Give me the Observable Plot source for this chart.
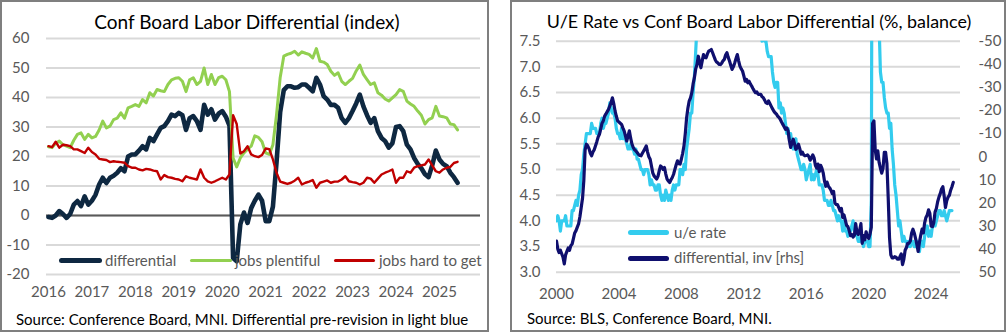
<!DOCTYPE html>
<html><head><meta charset="utf-8">
<script src="https://cdn.jsdelivr.net/npm/d3@7"></script>
<script src="https://cdn.jsdelivr.net/npm/@observablehq/plot@0.6"></script>
<style>
html,body{margin:0;padding:0;background:#fff;}
body{width:1007px;height:333px;overflow:hidden;position:relative;font-family:Lato,"Noto Sans",sans-serif;}
.frame{position:absolute;border:2px solid #7f7f7f;box-sizing:border-box;}
.title{position:absolute;text-align:center;color:#000;font-size:19px;line-height:19px;white-space:nowrap;}
.source{position:absolute;color:#000;font-size:15px;line-height:15px;white-space:nowrap;}
.leg{position:absolute;color:#595959;font-size:15px;line-height:15px;white-space:nowrap;}
.sw{position:absolute;}
.pbox{position:absolute;}
.pbox svg{position:absolute;left:0;top:0;}
</style></head><body>
<div class="frame" style="left:0;top:0;width:489px;height:332px;"></div>
<div class="frame" style="left:510px;top:0;width:496px;height:332px;"></div>
<div class="title" style="left:0;width:494px;top:12px;">Conf Board Labor Differential (index)</div>
<div class="title" style="left:510px;width:498px;top:12.8px;font-size:17.9px;line-height:17.9px;">U/E Rate vs Conf Board Labor Differential (%, balance)</div>
<div id="left" class="pbox" style="left:0;top:30px;width:488px;height:280px;"></div>
<div id="right" class="pbox" style="left:511px;top:30px;width:494px;height:280px;"></div>
<div class="source" style="left:16px;top:312px;">Source: Conference Board, MNI. Differential pre-revision in light blue</div>
<div class="source" style="left:527px;top:311px;">Source: BLS, Conference Board, MNI.</div>
<div id="legends"></div>
<script>
// ---------------- DATA ----------------
// Left panel: monthly, Jan 2016 .. Jun 2025
const leftStartYear = 2016;
const jobsPlentiful = [
  23.3,23.0,24.5,25.2,24.0,23.5,23.0,25.5,27.5,28.0,25.8,27.5,
  26.3,26.8,29.0,32.0,29.7,30.3,32.5,33.0,34.8,33.0,36.5,37.0,
  37.6,37.0,39.3,38.2,41.6,40.5,42.7,42.3,42.0,44.4,46.0,46.5,
  46.7,45.5,42.0,46.0,46.7,44.4,45.5,50.0,44.4,47.8,44.4,46.7,
  47.2,46.0,42.0,19.5,16.5,19.5,21.2,22.5,23.5,27.0,26.5,25.0,
  21.2,20.7,24.0,34.2,46.7,54.0,54.6,55.0,55.7,54.4,55.5,55.0,
  54.6,53.4,56.6,52.3,52.0,51.2,48.9,47.5,48.4,45.5,44.4,45.5,
  46.5,49.0,51.0,47.8,46.1,44.4,45.0,41.6,40.8,39.5,38.8,39.9,
  41.0,42.7,42.1,38.8,37.8,37.0,35.4,34.0,31.0,32.5,33.1,37.0,
  33.7,33.5,33.1,31.0,30.8,29.0
];
const jobsHardToGet = [
  23.5,23.2,25.0,23.0,24.0,23.8,23.5,22.4,22.4,21.8,21.2,23.0,
  21.5,20.7,19.2,19.0,18.8,18.1,18.4,18.2,18.1,17.9,16.7,16.2,
  16.2,15.6,15.3,15.8,15.6,15.2,15.0,12.2,13.7,13.0,12.8,12.4,
  12.2,11.6,13.3,12.8,12.5,12.2,15.6,12.8,11.6,11.1,11.6,12.2,
  12.8,12.2,13.9,34.0,31.0,21.0,21.8,23.5,20.7,20.1,19.8,20.5,
  22.7,22.5,19.0,14.5,11.5,11.1,10.7,11.1,11.8,12.8,10.5,11.1,
  11.5,12.0,9.4,11.1,11.5,11.9,11.1,11.5,11.5,12.2,13.3,11.6,
  11.3,11.1,10.5,11.1,12.8,12.5,11.1,12.5,13.9,14.5,15.0,15.6,
  11.1,12.8,12.8,15.0,14.5,16.2,16.7,17.0,17.3,19.0,17.0,15.0,
  14.5,15.6,16.2,16.5,17.8,18.2
];
const differential2016 = [
  -0.5,-0.8,0.0,1.5,0.5,-0.8,0.5,3.7,4.9,3.2,6.5,3.7,
  5.0,7.0,10.5,12.8,11.0,12.8,13.5,14.5,16.0,15.0,20.0,20.7,
  20.7,22.0,23.5,22.4,26.3,25.2,27.5,29.7,30.3,32.0,34.2,33.7,
  34.8,34.0,29.0,33.0,33.7,32.0,29.0,37.5,34.2,36.0,32.5,34.5,
  35.4,33.5,30.5,-14.4,-15.5,-3.0,1.0,-2.5,2.5,5.0,7.1,5.0,
  -1.9,-1.9,3.0,18.0,35.0,42.5,43.8,43.8,43.3,43.5,44.4,44.4,
  43.3,42.1,46.7,44.4,40.5,39.3,37.5,37.5,36.5,33.0,31.4,33.0,
  35.4,38.0,41.0,37.0,34.0,31.4,33.0,28.6,26.3,25.2,23.0,24.5,
  30.0,30.3,28.6,24.0,22.4,19.5,17.5,16.0,14.0,13.0,17.0,22.0,
  19.0,17.5,16.7,14.5,13.0,11.1
];
const leftYTicks = [-20,-10,0,10,20,30,40,50,60];
const leftYears = [2016,2017,2018,2019,2020,2021,2022,2023,2024,2025];

// Right panel: monthly from Jan 2000
const rightStartYear = 2000;
const differentialPre2016 = [
  36.5,40.0,41.5,40.5,42.0,43.5,46.4,42.5,41.0,39.5,40.5,38.5,
  37.8,35.5,33.0,32.0,30.5,29.0,26.0,22.0,18.0,10.4,-3.0,-5.4,
  -4.7,-3.5,-1.5,-0.4,-2.0,-3.0,-4.7,-6.5,-8.5,-9.7,-12.0,-14.5,
  -15.5,-17.6,-18.5,-19.5,-20.5,-22.0,-23.5,-25.5,-23.0,-19.8,-17.5,-15.5,
  -15.0,-14.5,-14.0,-12.5,-11.2,-9.0,-6.8,-9.0,-11.2,-8.0,-5.5,-4.0,
  -3.0,-2.5,-1.8,-1.0,-0.5,-0.4,-1.5,-2.5,-3.5,-4.7,-2.0,0.0,
  1.1,4.0,7.0,8.3,9.0,9.7,8.5,6.0,4.0,4.5,5.5,4.7,
  7.5,9.7,10.5,11.2,10.0,9.0,7.6,5.5,3.5,1.8,3.0,3.2,
  1.0,-1.5,-4.7,-10.0,-16.7,-21.0,-24.1,-25.5,-27.7,-31.5,-34.2,-38.0,
  -39.9,-43.5,-41.0,-38.5,-41.5,-44.2,-43.0,-42.8,-44.5,-45.7,-46.0,-46.4,
  -45.0,-43.5,-42.0,-41.0,-40.6,-40.0,-39.9,-40.5,-41.5,-42.1,-44.0,-45.0,
  -43.0,-41.4,-39.5,-37.8,-39.0,-40.6,-42.5,-44.2,-41.5,-39.2,-38.0,-37.1,
  -35.0,-32.7,-33.5,-32.0,-32.7,-31.5,-30.6,-29.5,-28.5,-27.7,-28.0,-27.0,
  -27.0,-27.0,-26.0,-25.5,-24.5,-23.4,-23.0,-24.1,-23.0,-21.9,-20.8,-19.8,
  -19.0,-18.5,-17.6,-17.0,-16.2,-15.0,-14.0,-13.0,-11.9,-12.5,-11.2,-7.0,
  -4.0,-6.0,-7.6,-5.5,-3.2,-4.0,-5.4,-3.5,-1.1,-2.0,-0.8,-0.4
];
const ueRate = [
  4.0,4.1,4.0,3.8,4.0,4.0,4.0,4.1,3.9,3.9,3.9,3.9,
  4.2,4.2,4.3,4.4,4.3,4.5,4.6,4.9,5.0,5.3,5.5,5.7,
  5.7,5.7,5.7,5.9,5.8,5.8,5.8,5.7,5.7,5.7,5.9,6.0,
  5.8,5.9,5.9,6.0,6.1,6.3,6.2,6.1,6.1,6.0,5.8,5.7,
  5.7,5.6,5.8,5.6,5.6,5.6,5.5,5.4,5.4,5.5,5.4,5.4,
  5.3,5.4,5.2,5.2,5.1,5.0,5.0,4.9,5.0,5.0,5.0,4.9,
  4.7,4.8,4.7,4.7,4.6,4.6,4.7,4.7,4.5,4.4,4.5,4.4,
  4.6,4.5,4.4,4.5,4.4,4.6,4.7,4.6,4.7,4.7,4.7,5.0,
  5.0,4.9,5.1,5.0,5.4,5.6,5.8,6.1,6.1,6.5,6.8,7.3,
  7.8,8.3,8.7,9.0,9.4,9.5,9.5,9.6,9.8,10.0,9.9,9.9,
  9.8,9.8,9.9,9.9,9.6,9.4,9.4,9.5,9.5,9.4,9.8,9.3,
  9.1,9.0,9.0,9.1,9.0,9.1,9.0,9.0,9.0,8.8,8.6,8.5,
  8.3,8.3,8.2,8.2,8.2,8.2,8.2,8.0,7.8,7.8,7.7,7.9,
  8.0,7.7,7.5,7.6,7.5,7.5,7.3,7.2,7.2,7.2,6.9,6.7,
  6.6,6.7,6.7,6.2,6.3,6.1,6.2,6.1,5.9,5.7,5.8,5.6,
  5.7,5.5,5.4,5.4,5.6,5.3,5.2,5.1,5.0,5.0,5.1,5.0,
  4.8,4.9,5.0,5.1,4.8,4.9,4.8,4.9,5.0,4.9,4.7,4.7,
  4.7,4.6,4.4,4.4,4.4,4.3,4.3,4.4,4.3,4.2,4.2,4.1,
  4.0,4.1,4.0,4.0,3.8,4.0,3.8,3.8,3.7,3.8,3.8,3.9,
  4.0,3.8,3.8,3.7,3.6,3.6,3.7,3.6,3.5,3.6,3.6,3.6,
  3.5,3.5,4.4,14.8,13.2,11.0,10.2,8.4,7.8,6.9,6.7,6.7,
  6.4,6.2,6.1,6.1,5.8,5.9,5.4,5.1,4.7,4.5,4.2,3.9,
  4.0,3.8,3.6,3.7,3.6,3.6,3.5,3.6,3.5,3.6,3.6,3.5,
  3.5,3.6,3.5,3.4,3.6,3.6,3.5,3.7,3.8,3.9,3.7,3.8,
  3.7,3.9,3.9,3.9,4.0,4.1,4.2,4.2,4.1,4.1,4.2,4.1,
  4.0,4.1,4.2,4.2,4.2
];
const rightYTicks = [3.0,3.5,4.0,4.5,5.0,5.5,6.0,6.5,7.0,7.5];
const rhsTicks = [-50,-40,-30,-20,-10,0,10,20,30,40,50];
const rightYears = [2000,2004,2008,2012,2016,2020,2024];

// ---------------- STYLE ----------------
const FONT = 'Lato, "Noto Sans", sans-serif';
const C = {navyL:"#0E2841", green:"#92D050", red:"#C00000", light:"#33CCEE", navyR:"#0F0F6E",
           grid:"#D9D9D9", zero:"#595959", text:"#595959"};

const rows = (start, vals) => vals.map((v, i) => ({t: start + i / 12, v}));
const baseStyle = {fontFamily: FONT, fontSize: "15px", color: C.text, background: "transparent", overflow: "visible"};

// ---------------- LEFT ----------------
const left = Plot.plot({
  width: 488, height: 280,
  marginLeft: 46, marginRight: 8, marginTop: 8, marginBottom: 36,
  style: baseStyle,
  x: {type: "linear", domain: [2015.955, 2025.945], label: null},
  y: {domain: [-20, 60], label: null},
  marks: [
    Plot.gridY(leftYTicks, {stroke: C.grid, strokeOpacity: 1, strokeWidth: 2}),
    Plot.ruleY([0], {stroke: C.zero, strokeWidth: 2}),
    Plot.axisY(leftYTicks, {tickSize: 0, tickPadding: 17, tickFormat: d => String(d), label: null}),
    Plot.axisX(leftYears, {tickSize: 0, tickPadding: 12, tickFormat: d => String(d), label: null}),
    Plot.line(rows(leftStartYear, differential2016), {x: "t", y: "v", stroke: C.navyL, strokeWidth: 4.6}),
    Plot.line(rows(leftStartYear, jobsPlentiful), {x: "t", y: "v", stroke: C.green, strokeWidth: 3}),
    Plot.line(rows(leftStartYear, jobsHardToGet), {x: "t", y: "v", stroke: C.red, strokeWidth: 2.4})
  ]
});
document.getElementById("left").appendChild(left);

// ---------------- RIGHT ----------------
const rDims = {width: 494, height: 280, marginLeft: 45, marginRight: 45, marginTop: 10.7, marginBottom: 38.3};
const rightBase = Plot.plot({
  ...rDims, style: baseStyle,
  x: {type: "linear", domain: [2000, 2025.88], label: null},
  y: {domain: [3, 7.5], label: null},
  marks: [
    Plot.gridY(rightYTicks, {stroke: C.grid, strokeOpacity: 1, strokeWidth: 2}),
    Plot.axisY(rightYTicks, {anchor: "left", tickSize: 0, tickPadding: 16, tickFormat: d => d.toFixed(1), label: null}),
    Plot.axisX(rightYears, {tickSize: 0, tickPadding: 16, tickFormat: d => String(d), label: null}),
    Plot.line(rows(rightStartYear, ueRate), {x: "t", y: "v", stroke: C.light, strokeWidth: 3.2, clip: true})
  ]
});
const differentialAll = differentialPre2016.concat(differential2016);
const rightOver = Plot.plot({
  ...rDims, style: baseStyle,
  x: {type: "linear", domain: [2000, 2025.88], label: null, axis: null},
  y: {domain: [50, -50], label: null},
  marks: [
    Plot.axisY(rhsTicks, {anchor: "right", tickSize: 0, tickPadding: 18, tickFormat: d => String(d), label: null}),
    Plot.line(rows(rightStartYear, differentialAll), {x: "t", y: "v", stroke: C.navyR, strokeWidth: 3.2, clip: true})
  ]
});
const rb = document.getElementById("right");
rb.appendChild(rightBase);
rb.appendChild(rightOver);

// ---------------- LEGENDS ----------------
const legendItems = [
  {x: 59, w: 43, cy: 260.5, h: 5, color: C.navyL, label: "differential", tx: 105, top: 252.5},
  {x: 190, w: 42, cy: 260.5, h: 3.5, color: C.green, label: "jobs plentiful", tx: 235, top: 252.5},
  {x: 334, w: 41, cy: 260.5, h: 3, color: C.red, label: "jobs hard to get", tx: 379, top: 252.5},
  {x: 628, w: 41, cy: 232.7, h: 5, color: C.light, label: "u/e rate", tx: 674, top: 224.5},
  {x: 628, w: 41, cy: 258.3, h: 5, color: C.navyR, label: "differential, inv [rhs]", tx: 674, top: 250}
];
const lg = document.getElementById("legends");
for (const it of legendItems) {
  const s = document.createElement("div");
  s.className = "sw";
  s.style.cssText = `left:${it.x}px;top:${it.cy - it.h/2}px;width:${it.w}px;height:${it.h}px;background:${it.color};border-radius:${it.h/2}px;`;
  lg.appendChild(s);
  const t = document.createElement("div");
  t.className = "leg";
  t.style.cssText = `left:${it.tx}px;top:${it.top}px;`;
  t.textContent = it.label;
  lg.appendChild(t);
}
</script>
</body></html>
